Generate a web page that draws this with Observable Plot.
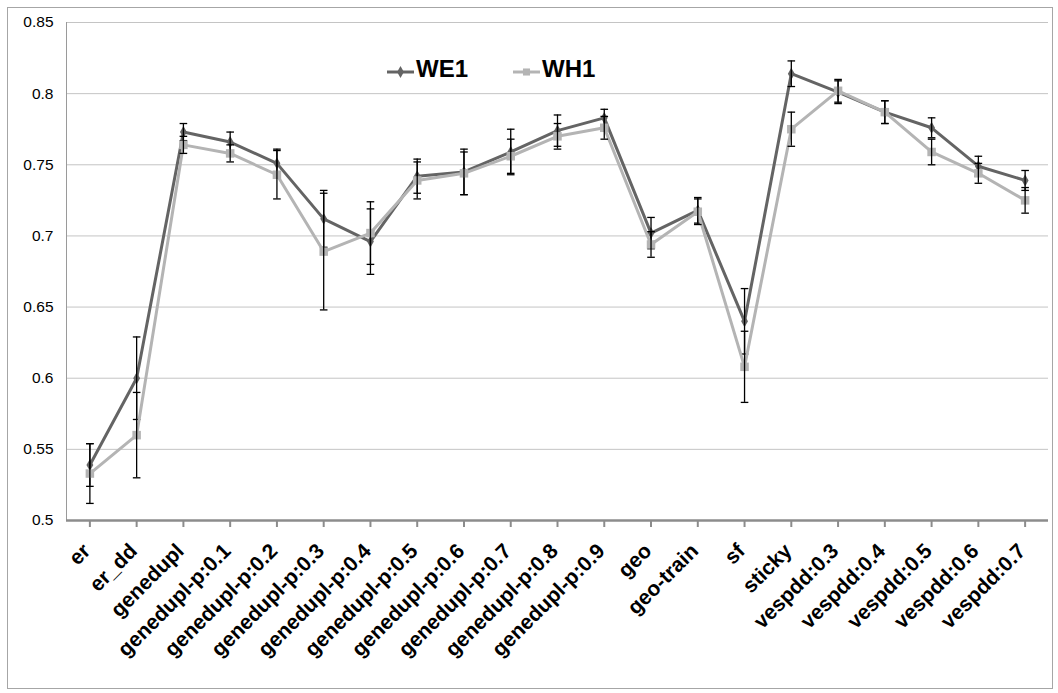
<!DOCTYPE html>
<html>
<head>
<meta charset="utf-8">
<script src="https://cdn.jsdelivr.net/npm/d3@7"></script>
<script src="https://cdn.jsdelivr.net/npm/@observablehq/plot@0.6"></script>
<style>
  html, body { margin: 0; padding: 0; background: #fff; }
  #wrap { position: relative; width: 1058px; height: 693px; overflow: hidden; font-family: "Liberation Sans", Arial, sans-serif; }
  #border { position: absolute; left: 7px; top: 7px; width: 1046px; height: 682px; border: 1px solid #a6a6a6; box-sizing: border-box; pointer-events: none; }
  #chart { position: absolute; left: 0; top: 0; }
  #legend { position: absolute; left: 0; top: 0; pointer-events: none; }
</style>
</head>
<body>
<div id="wrap">
  <div id="chart"></div>
  <div id="border"></div>
  <svg id="legend" width="1058" height="120"></svg>
</div>
<script>
// ---- data ----
const categories = ["er", "er_dd", "genedupl", "genedupl-p:0.1", "genedupl-p:0.2", "genedupl-p:0.3",
  "genedupl-p:0.4", "genedupl-p:0.5", "genedupl-p:0.6", "genedupl-p:0.7", "genedupl-p:0.8",
  "genedupl-p:0.9", "geo", "geo-train", "sf", "sticky", "vespdd:0.3", "vespdd:0.4",
  "vespdd:0.5", "vespdd:0.6", "vespdd:0.7"];
const we1    = [0.539, 0.600, 0.773, 0.766, 0.751, 0.712, 0.696, 0.742, 0.745, 0.759, 0.774,
                0.783, 0.702, 0.718, 0.640, 0.814, 0.801, 0.787, 0.776, 0.749, 0.739];
const we1Err = [0.015, 0.029, 0.006, 0.007, 0.010, 0.020, 0.023, 0.012, 0.016, 0.016, 0.011,
                0.006, 0.011, 0.009, 0.023, 0.009, 0.008, 0.008, 0.007, 0.007, 0.007];
const wh1    = [0.533, 0.560, 0.764, 0.758, 0.743, 0.689, 0.702, 0.739, 0.744, 0.756, 0.770,
                0.776, 0.694, 0.717, 0.608, 0.775, 0.802, 0.787, 0.759, 0.744, 0.725];
const wh1Err = [0.021, 0.030, 0.006, 0.006, 0.017, 0.041, 0.022, 0.013, 0.015, 0.012, 0.009,
                0.008, 0.009, 0.009, 0.025, 0.012, 0.008, 0.008, 0.009, 0.007, 0.009];
const yTicks = [0.5, 0.55, 0.6, 0.65, 0.7, 0.75, 0.8, 0.85];
const seriesNames = ["WE1", "WH1"];
const seriesColors = ["#646464", "#b4b4b4"];

// ---- table ----
const rowsWE1 = categories.map((c, i) => ({cat: c, v: we1[i], e: we1Err[i]}));
const rowsWH1 = categories.map((c, i) => ({cat: c, v: wh1[i], e: wh1Err[i]}));

const capSymbol = {
  draw(context, size) {
    const r = Math.sqrt(size / Math.PI);
    context.moveTo(-r, 0);
    context.lineTo(r, 0);
  }
};

function seriesMarks(rows, color, symbol, r) {
  return [
    Plot.line(rows, {x: "cat", y: "v", stroke: color, strokeWidth: 3}),
    Plot.dot(rows, {x: "cat", y: "v", symbol, r, fill: color, stroke: "none"}),
    Plot.ruleX(rows, {x: "cat", y1: d => d.v - d.e, y2: d => d.v + d.e, stroke: "#000", strokeWidth: 1.3}),
    Plot.dot(rows, {x: "cat", y: d => d.v - d.e, symbol: capSymbol, r: 3.8, stroke: "#000", fill: "none", strokeWidth: 1.3}),
    Plot.dot(rows, {x: "cat", y: d => d.v + d.e, symbol: capSymbol, r: 3.8, stroke: "#000", fill: "none", strokeWidth: 1.3})
  ];
}

const chart = Plot.plot({
  width: 1058,
  height: 693,
  marginLeft: 66,
  marginRight: 10,
  marginTop: 22,
  marginBottom: 173,
  style: {fontFamily: "'Liberation Sans', Arial, sans-serif", background: "transparent", color: "#000"},
  x: {type: "band", domain: categories, padding: 0, round: false, label: null},
  y: {domain: [0.5, 0.85], label: null},
  marks: [
    Plot.ruleY(yTicks.filter(t => t > 0.5), {y: d => d, stroke: "#c4c4c4", strokeWidth: 1}),
    Plot.frame({anchor: "left", stroke: "#9a9a9a"}),
    Plot.axisY(yTicks, {tickSize: 0, tickPadding: 13, fontSize: 15.5, tickFormat: d => String(d), label: null}),
    Plot.axisX({tickSize: 7, tickFormat: () => "", stroke: "#8c8c8c", strokeWidth: 2, label: null}),
    Plot.text(categories, {x: d => d, frameAnchor: "bottom", text: d => d, rotate: -45, textAnchor: "end",
      lineAnchor: "middle", dy: 27, dx: -3, fontSize: 21, fontWeight: "bold", fill: "#000"}),
    Plot.ruleY([0.5], {stroke: "#8c8c8c", strokeWidth: 2.5}),
    ...seriesMarks(rowsWE1, seriesColors[0], "diamond", 3.6),
    ...seriesMarks(rowsWH1, seriesColors[1], "square", 4.8)
  ]
});
document.getElementById("chart").appendChild(chart);

// ---- legend (inside plot area, as in the reference) ----
const lg = d3.select("#legend");
const items = [
  {name: seriesNames[0], color: seriesColors[0], x: 387, sym: d3.symbolDiamond, size: 40},
  {name: seriesNames[1], color: seriesColors[1], x: 513, sym: d3.symbolSquare, size: 50}
];
for (const it of items) {
  const g = lg.append("g").attr("transform", `translate(${it.x},0)`);
  g.append("line").attr("x1", 0).attr("x2", 27).attr("y1", 72).attr("y2", 72)
    .attr("stroke", it.color).attr("stroke-width", 3);
  g.append("path").attr("d", d3.symbol(it.sym, it.size)()).attr("transform", "translate(13.5,72)")
    .attr("fill", it.color);
  g.append("text").attr("x", 29).attr("y", 77).text(it.name)
    .attr("font-family", "'Liberation Sans', Arial, sans-serif")
    .attr("font-weight", "bold").attr("font-size", 24).attr("fill", "#000");
}
</script>
</body>
</html>
